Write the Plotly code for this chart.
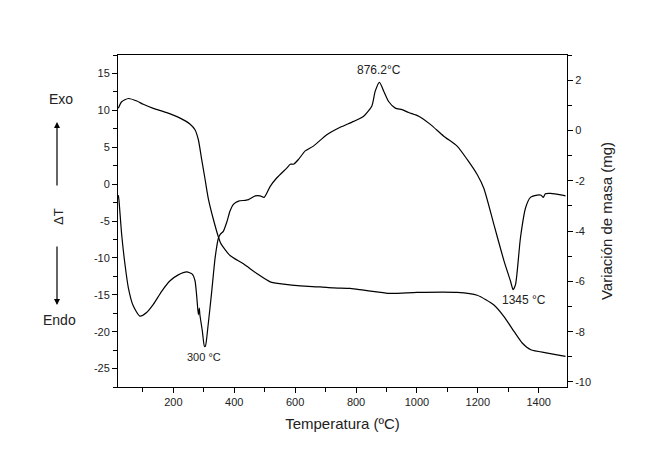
import plotly.graph_objects as go

# DTA curve (left axis, ΔT)
dta_T = [19, 21, 30, 41, 52, 68, 90, 112, 134, 162, 189, 216, 244, 262, 271, 277, 282, 285, 287, 295, 302, 305, 313, 326, 337, 348, 354, 364, 375, 386, 397, 414, 436, 447, 469, 485, 498, 518, 540, 573, 584, 595, 611, 633, 660, 704, 748, 792, 825, 852, 863, 877, 891, 907, 929, 951, 973, 1006, 1044, 1088, 1132, 1165, 1198, 1220, 1253, 1286, 1307, 1316, 1324, 1340, 1357, 1373, 1395, 1408, 1415, 1422, 1439, 1477, 1488]
dta_v = [-1.5, -2.1, -6.8, -10.9, -14.05, -16.5, -17.9, -17.4, -16.3, -14.5, -13.1, -12.3, -11.9, -12.2, -13.1, -15.4, -17.7, -16.8, -17.7, -19.9, -22.0, -22.0, -19.5, -14.5, -10.0, -7.3, -6.8, -6.4, -5.2, -3.65, -2.75, -2.3, -2.2, -2.1, -1.6, -1.6, -1.8, -0.3, 0.86, 2.2, 2.7, 2.7, 3.35, 4.5, 5.15, 6.7, 7.7, 8.5, 9.2, 10.6, 12.6, 13.8, 12.6, 11.2, 10.3, 10.1, 9.7, 9.2, 8.1, 6.5, 5.15, 3.35, 1.3, -0.6, -5.5, -10.4, -13.1, -14.3, -13.6, -7.3, -3.2, -1.8, -1.5, -1.5, -1.8, -1.3, -1.25, -1.5, -1.6]

# TG curve (right axis, mass change in mg)
tg_T = [19, 30, 52, 80, 101, 134, 178, 222, 255, 271, 282, 293, 304, 315, 331, 348, 356, 386, 430, 474, 518, 562, 617, 682, 726, 781, 825, 913, 1000, 1132, 1198, 1253, 1286, 1319, 1346, 1374, 1429, 1488]
tg_m = [0.88, 1.14, 1.27, 1.17, 1.04, 0.88, 0.71, 0.49, 0.25, 0.03, -0.37, -1.16, -1.94, -2.73, -3.52, -4.24, -4.5, -4.97, -5.3, -5.69, -6.02, -6.11, -6.18, -6.22, -6.26, -6.28, -6.35, -6.48, -6.44, -6.44, -6.55, -6.94, -7.40, -7.99, -8.45, -8.72, -8.85, -8.98]

x_ticks = [200, 400, 600, 800, 1000, 1200, 1400]
y_ticks = [15, 10, 5, 0, -5, -10, -15, -20, -25]
y2_ticks = [2, 0, -2, -4, -6, -8, -10]

font = "Liberation Sans, Arial, sans-serif"
tickfont = dict(family=font, size=11, color="#222")

fig = go.Figure()
fig.add_trace(go.Scatter(x=dta_T, y=dta_v, mode="lines", line=dict(color="black", width=1.2, shape="spline", smoothing=0.6), yaxis="y"))
fig.add_trace(go.Scatter(x=tg_T, y=tg_m, mode="lines", line=dict(color="black", width=1.2, shape="spline", smoothing=0.6), yaxis="y2"))

# page body adds an 8px offset, so the figure is 8px smaller than the window
fig.update_layout(
    width=652, height=454,
    margin=dict(l=110, r=93, t=47, b=75, autoexpand=False),
    paper_bgcolor="white", plot_bgcolor="white",
    showlegend=False,
    font=dict(family=font, color="#222"),
    xaxis=dict(range=[18, 1493], showline=True, linecolor="black", linewidth=1, mirror=True,
               ticks="outside", ticklen=5, tickcolor="black",
               tickvals=x_ticks, ticktext=[str(v) for v in x_ticks], tickfont=tickfont,
               minor=dict(dtick=100, tick0=0, ticks="outside", ticklen=4, tickcolor="black"),
               showgrid=False, zeroline=False, automargin=False,
               title=dict(text="Temperatura (ºC)", font=dict(family=font, size=15, color="#222"), standoff=11)),
    yaxis=dict(range=[-27.5, 17.5], showline=True, linecolor="black", linewidth=1, mirror=True,
               ticks="outside", ticklen=5, tickcolor="black",
               tickvals=y_ticks, ticktext=[str(v) for v in y_ticks], tickfont=tickfont,
               minor=dict(dtick=2.5, tick0=0, ticks="outside", ticklen=4, tickcolor="black"),
               showgrid=False, zeroline=False, automargin=False),
    yaxis2=dict(range=[-10.2, 3], overlaying="y", side="right", showline=True, linecolor="black", linewidth=1,
                ticks="outside", ticklen=5, tickcolor="black",
                tickvals=y2_ticks, ticktext=[str(v) for v in y2_ticks], tickfont=tickfont,
                minor=dict(dtick=1, tick0=0, ticks="outside", ticklen=4, tickcolor="black"),
                showgrid=False, zeroline=False, automargin=False,
                title=dict(text="Variación de masa (mg)", font=dict(family=font, size=15, color="#222"), standoff=11)),
)

ann_font = dict(family=font, size=12, color="#222")
fig.add_annotation(x=876.2, y=13.8, xref="x", yref="y", text="876.2°C", showarrow=False, xanchor="center", yanchor="bottom", yshift=3, font=ann_font)
fig.add_annotation(x=300, y=-22.2, xref="x", yref="y", text="300 °C", showarrow=False, xanchor="center", yanchor="top", yshift=-1, font=dict(family=font, size=11, color="#222"))
fig.add_annotation(x=1345, y=-14.3, xref="x", yref="y", text="1345 °C", showarrow=False, xanchor="center", yanchor="top", xshift=2, yshift=-1, font=ann_font)

# Exo / Endo / ΔT labels with arrows (outside plot, left); positions in plot-area pixels
def px_x(p):
    return (p - 118) / 449.0

def px_y(p):
    return (387 - p) / 332.0

side_font = dict(family=font, size=14, color="#222")
fig.add_annotation(x=px_x(61), y=px_y(99), xref="paper", yref="paper", text="Exo", showarrow=False,
                   xanchor="center", yanchor="middle", font=side_font)
fig.add_annotation(x=px_x(59), y=px_y(320), xref="paper", yref="paper", text="Endo", showarrow=False,
                   xanchor="center", yanchor="middle", font=side_font)
fig.add_annotation(x=px_x(58), y=px_y(216), xref="paper", yref="paper", text="ΔT", showarrow=False, textangle=-90,
                   xanchor="center", yanchor="middle", font=dict(family=font, size=13, color="#222"))
fig.add_annotation(x=px_x(57), y=px_y(122), xref="paper", yref="paper", ax=0, ay=65, text="", showarrow=True,
                   arrowhead=2, arrowsize=1, arrowwidth=1.2, arrowcolor="black")
fig.add_annotation(x=px_x(57), y=px_y(305), xref="paper", yref="paper", ax=0, ay=-60, text="", showarrow=True,
                   arrowhead=2, arrowsize=1, arrowwidth=1.2, arrowcolor="black")

fig.write_html("out.html")
